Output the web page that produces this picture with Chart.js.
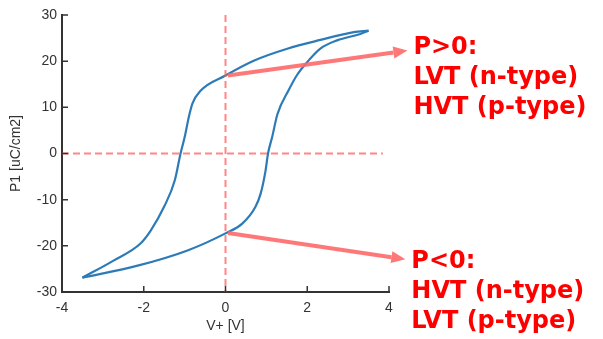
<!DOCTYPE html>
<html>
<head>
<meta charset="utf-8">
<script src="https://cdn.jsdelivr.net/npm/chart.js@4/dist/chart.umd.min.js"></script>
<style>
    html, body { margin: 0; padding: 0; background: #fff; }
    #wrap { width: 603px; height: 339px; }
</style>
</head>
<body>
<div id="wrap"><canvas id="loopChart"></canvas></div>
<script>
// upper branch: sweep from +V tip down to -V tip
const upperV = [3.5, 3.14, 2.32, 1.51, 0.69, 0, -0.61, -0.81, -0.9, -1.0, -1.1, -1.24, -1.5, -1.83, -2.08, -2.74, -3.5]
const upperP = [26.6, 26.3, 24.6, 22.7, 20.1, 16.9, 13.6, 10.8, 7.8, 3.5, 0, -5.8, -11.5, -16.7, -19.5, -23.2, -26.9]
// lower branch: sweep from -V tip back up to +V tip
const lowerV = [-3.5, -2.15, -0.93, 0, 0.41, 0.73, 0.86, 0.98, 1.04, 1.14, 1.27, 1.55, 1.75, 1.96, 2.32, 2.73, 3.3, 3.5]
const lowerP = [-26.9, -24.3, -21, -17.3, -15.2, -11.6, -8.7, -3.7, 0, 3.5, 8.5, 13.8, 17.0, 19.4, 22.7, 24.5, 25.9, 26.6]

const xTicks = [-4, -2, 0, 2, 4]
const yTicks = [-30, -20, -10, 0, 10, 20, 30]

// dashed guide lines
const hGuideV = [-4, 3.85]
const vGuideP = [30, -30]

// arrows [start, tip] in data units, with their labels
const arrowUp = { from: [0.06, 16.9], to: [4.45, 22.3], lines: ["P>0:", "LVT (n-type)", "HVT (p-type)"] }
const arrowDown = { from: [0.06, -17.2], to: [4.4, -22.9], lines: ["P<0:", "HVT (n-type)", "LVT (p-type)"] }

const toPts = (xs, ys) => xs.map((x, i) => ({ x: x, y: ys[i] }))

const lineBlue = "#2c7bb8"
const guideRed = "rgba(255, 95, 95, 0.75)"

// inward tick marks, drawn after the axes
const inwardTicks = {
    id: "inwardTicks",
    afterDraw(chart) {
        const ctx = chart.ctx
        const xs = chart.scales.x
        const ys = chart.scales.y
        ctx.save()
        ctx.strokeStyle = "#333"
        ctx.lineWidth = 1.5
        ctx.beginPath()
        for (let v of xTicks) {
            let px = xs.getPixelForValue(v)
            ctx.moveTo(px, ys.bottom)
            ctx.lineTo(px, ys.bottom - 6)
        }
        for (let v of yTicks) {
            let py = ys.getPixelForValue(v)
            ctx.moveTo(xs.left, py)
            ctx.lineTo(xs.left + 6, py)
        }
        ctx.stroke()
        ctx.restore()
    }
}

// arrows and the red notes beside them
const arrowNotes = {
    id: "arrowNotes",
    afterDatasetsDraw(chart) {
        const ctx = chart.ctx
        const xs = chart.scales.x
        const ys = chart.scales.y
        for (let a of [arrowUp, arrowDown]) {
            let x0 = xs.getPixelForValue(a.from[0])
            let y0 = ys.getPixelForValue(a.from[1])
            let x1 = xs.getPixelForValue(a.to[0])
            let y1 = ys.getPixelForValue(a.to[1])
            let ang = Math.atan2(y1 - y0, x1 - x0)
            let head = 14
            ctx.save()
            ctx.strokeStyle = "rgba(255, 105, 105, 0.9)"
            ctx.fillStyle = "rgba(255, 105, 105, 0.9)"
            ctx.lineWidth = 4
            ctx.beginPath()
            ctx.moveTo(x0, y0)
            ctx.lineTo(x1 - head * Math.cos(ang), y1 - head * Math.sin(ang))
            ctx.stroke()
            ctx.beginPath()
            ctx.moveTo(x1, y1)
            ctx.lineTo(x1 - head * Math.cos(ang) + 6 * Math.sin(ang), y1 - head * Math.sin(ang) - 6 * Math.cos(ang))
            ctx.lineTo(x1 - head * Math.cos(ang) - 6 * Math.sin(ang), y1 - head * Math.sin(ang) + 6 * Math.cos(ang))
            ctx.closePath()
            ctx.fill()

            // text block sits a bit higher next to the upper arrow
            let dy = a.to[1] > 0 ? -3 : 3
            ctx.fillStyle = "#ff0000"
            ctx.font = "bold 24px 'DejaVu Sans', Verdana, sans-serif"
            ctx.textAlign = "left"
            ctx.textBaseline = "middle"
            a.lines.forEach((t, i) => {
                ctx.fillText(t, x1 + 6, y1 + dy + i * 30)
            })
            ctx.restore()
        }
    }
}

Chart.defaults.font.family = "'Liberation Sans', Arial, sans-serif"
Chart.defaults.font.size = 14
Chart.defaults.color = "#333"
Chart.defaults.animation = false

new Chart(document.getElementById("loopChart"), {
    type: "scatter",
    data: {
        datasets: [
            {
                data: toPts(hGuideV, [0, 0]),
                showLine: true,
                borderColor: guideRed,
                borderWidth: 2,
                borderDash: [7, 4],
                pointRadius: 0
            },
            {
                data: toPts([0, 0], vGuideP),
                showLine: true,
                borderColor: guideRed,
                borderWidth: 2,
                borderDash: [7, 4],
                pointRadius: 0
            },
            {
                data: toPts(upperV, upperP),
                showLine: true,
                borderColor: lineBlue,
                borderWidth: 2.2,
                cubicInterpolationMode: "monotone",
                pointRadius: 0
            },
            {
                data: toPts(lowerV, lowerP),
                showLine: true,
                borderColor: lineBlue,
                borderWidth: 2.2,
                cubicInterpolationMode: "monotone",
                pointRadius: 0
            }
        ]
    },
    options: {
        responsive: true,
        maintainAspectRatio: false,
        layout: {
            padding: { left: 0, right: 214, top: 15, bottom: 0 }
        },
        plugins: {
            legend: { display: false },
            tooltip: { enabled: false }
        },
        scales: {
            x: {
                type: "linear",
                min: -4,
                max: 4,
                grid: { display: false, drawTicks: false },
                border: { color: "#333", width: 2 },
                ticks: {
                    stepSize: 2,
                    padding: 8,
                    font: { size: 14 },
                    callback: v => v
                },
                title: {
                    display: true,
                    text: "V+ [V]",
                    font: { size: 14 },
                    padding: { top: 2, bottom: 4 }
                },
                afterFit: s => { s.height = 47 }
            },
            y: {
                type: "linear",
                min: -30,
                max: 30,
                grid: { display: false, drawTicks: false },
                border: { color: "#333", width: 2 },
                ticks: {
                    stepSize: 10,
                    padding: 5,
                    font: { size: 14 },
                    callback: v => v
                },
                title: {
                    display: true,
                    text: "P1 [uC/cm2]",
                    font: { size: 14 },
                    padding: { top: 8, bottom: 0 }
                },
                afterFit: s => { s.width = 62 }
            }
        }
    },
    plugins: [inwardTicks, arrowNotes]
})
</script>
</body>
</html>
